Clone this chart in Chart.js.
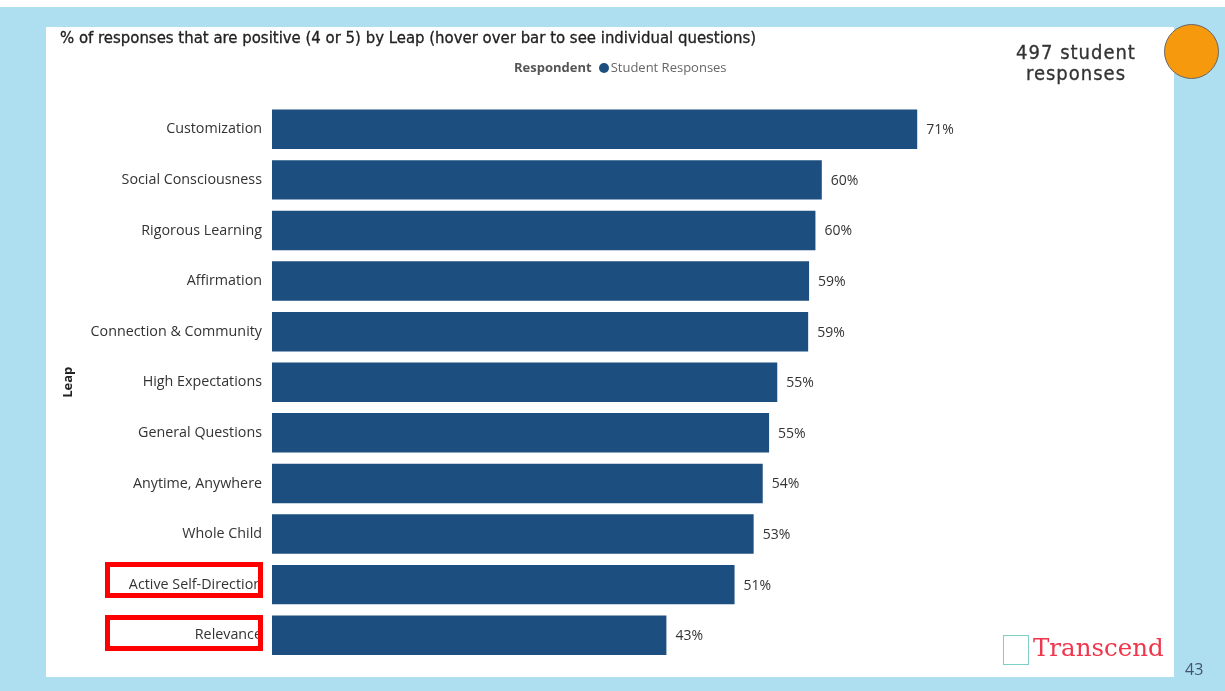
<!DOCTYPE html>
<html>
<head>
<meta charset="utf-8">
<script src="https://cdn.jsdelivr.net/npm/chart.js@4.4.1/dist/chart.umd.min.js"></script>
<style>
  body { margin: 0; width: 1225px; height: 691px; overflow: hidden; background: #fff; position: relative; font-family: "Open Sans", sans-serif; }
  #bg { position: absolute; left: 0; top: 7px; width: 1225px; height: 684px; background: #addff0; }
  #panel { position: absolute; left: 46px; top: 27px; width: 1128px; height: 650px; background: #fff; }
  #chartWrap { position: absolute; left: 46px; top: 27px; width: 1128px; height: 650px; }
  #title { position: absolute; left: 60px; top: 28px; font-family: "DejaVu Sans Condensed", sans-serif; font-size: 16.6px; color: #222; -webkit-text-stroke: 0.3px #222; }
  #legend { position: absolute; left: 514px; top: 58px; font-size: 13px; color: #666; font-family: "Open Sans", sans-serif; }
  #legend b { color: #555; margin-right: 7px; }
  #legend .dot { display: inline-block; width: 10px; height: 10px; border-radius: 50%; background: #1c4e80; vertical-align: -1px; margin-right: 2px; }
  #count { position: absolute; left: 996px; top: 42px; width: 160px; text-align: center; font-family: "DejaVu Sans Condensed", sans-serif; font-size: 20px; line-height: 21px; letter-spacing: 1px; color: #333; -webkit-text-stroke: 0.3px #333; }
  #circle { position: absolute; left: 1164px; top: 24px; width: 55px; height: 55px; border-radius: 50%; background: #f7990c; border: 1px solid #666; box-sizing: border-box; }
  .redbox { position: absolute; border: 5px solid #ff0000; box-sizing: border-box; }
  #logo { position: absolute; left: 1033px; top: 633px; font-family: "DejaVu Serif", serif; font-size: 24.5px; color: #f0354c; }
  #logoIcon { position: absolute; left: 1003px; top: 635px; width: 26px; height: 30px; border: 1px solid #7fcfc6; box-sizing: border-box; }
  #page { position: absolute; left: 1185px; top: 658px; font-size: 16px; color: #44546a; }
</style>
</head>
<body>
<div id="bg"></div>
<div id="panel"></div>
<div id="chartWrap"><canvas id="chart"></canvas></div>
<div id="title">% of responses that are positive (4 or 5) by Leap (hover over bar to see individual questions)</div>
<div id="legend"><b>Respondent</b><span class="dot"></span><span id="seriesName"></span></div>
<div id="count">497 student<br>responses</div>
<div id="circle"></div>
<div class="redbox" style="left:105px; top:562px; width:158px; height:36px;"></div>
<div class="redbox" style="left:105px; top:615px; width:158px; height:36px;"></div>
<div id="logoIcon"></div>
<div id="logo">Transcend</div>
<div id="page">43</div>
<script>
var leaps = ["Customization", "Social Consciousness", "Rigorous Learning", "Affirmation",
  "Connection & Community", "High Expectations", "General Questions", "Anytime, Anywhere",
  "Whole Child", "Active Self-Direction", "Relevance"];
var positivePct = [71, 60.5, 59.8, 59.1, 59, 55.6, 54.7, 54, 53, 50.9, 43.4];
var shownLabels = ["71%", "60%", "60%", "59%", "59%", "55%", "55%", "54%", "53%", "51%", "43%"];
var seriesName = "Student Responses";

document.getElementById("seriesName").textContent = seriesName;

// draw the % text just right of each bar
var barLabels = {
  id: "barLabels",
  afterDatasetsDraw: function (chart) {
    var ctx = chart.ctx;
    var meta = chart.getDatasetMeta(0);
    ctx.save();
    ctx.font = "14px 'Open Sans'";
    ctx.fillStyle = "#333";
    ctx.textBaseline = "middle";
    meta.data.forEach(function (bar, i) {
      ctx.fillText(shownLabels[i], bar.x + 9, bar.y + 1);
    });
    ctx.restore();
  }
};

new Chart(document.getElementById("chart"), {
  type: "bar",
  data: {
    labels: leaps,
    datasets: [{
      label: seriesName,
      data: positivePct,
      backgroundColor: "#1c4e80",
      categoryPercentage: 1,
      barPercentage: 0.78
    }]
  },
  options: {
    indexAxis: "y",
    responsive: true,
    maintainAspectRatio: false,
    animation: false,
    layout: { padding: { top: 77, bottom: 16.5, right: 175, left: 10 } },
    plugins: { legend: { display: false }, tooltip: { enabled: false } },
    scales: {
      x: { display: false, min: 0, max: 80 },
      y: {
        grid: { display: false },
        border: { display: false },
        ticks: { color: "#333", font: { family: "Open Sans", size: 14.3 }, padding: 2 },
        title: { display: true, text: "Leap", color: "#222", font: { family: "Open Sans", size: 13, weight: "bold" } },
        afterFit: function (scale) { scale.width = 216; }
      }
    }
  },
  plugins: [barLabels]
});
</script>
</body>
</html>
